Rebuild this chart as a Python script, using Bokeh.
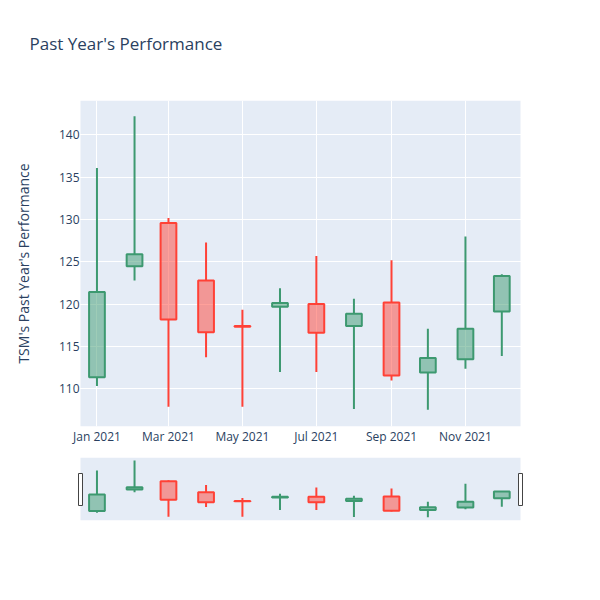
import numpy as np
from bokeh.plotting import figure
from bokeh.layouts import column
from bokeh.models import FixedTicker, Range1d, ColumnDataSource, CustomJSTickFormatter
from bokeh.embed import file_html
from bokeh.resources import INLINE

# ---- data ----
dates = ["2021-01-01", "2021-02-01", "2021-03-01", "2021-04-01", "2021-05-01", "2021-06-01",
         "2021-07-01", "2021-08-01", "2021-09-01", "2021-10-01", "2021-11-01", "2021-12-01"]
opens = [111.4, 124.5, 129.6, 122.8, 117.45, 119.7, 120.05, 117.45, 120.2, 111.95, 113.5, 119.15]
highs = [136.1, 142.2, 130.2, 127.3, 119.35, 121.9, 125.7, 120.65, 125.2, 117.1, 128.0, 123.55]
lows = [110.35, 122.8, 107.9, 113.75, 107.9, 112.0, 112.0, 107.65, 111.0, 107.55, 112.4, 113.9]
closes = [121.45, 125.9, 118.2, 116.7, 117.35, 120.15, 116.65, 118.9, 111.6, 113.65, 117.1, 123.35]

x_tick_dates = ["2021-01-01", "2021-03-01", "2021-05-01", "2021-07-01", "2021-09-01", "2021-11-01"]
x_tick_labels = ["Jan 2021", "Mar 2021", "May 2021", "Jul 2021", "Sep 2021", "Nov 2021"]
y_ticks = [110, 115, 120, 125, 130, 135, 140]

title_text = "Past Year's Performance"
y_label = "TSM's Past Year's Performance"

# ---- derived ----
def to_ms(lst):
    return np.array(lst, dtype="datetime64[ms]").astype("int64").astype(float)

x = to_ms(dates)
o = np.array(opens); h = np.array(highs); l = np.array(lows); c = np.array(closes)
top = np.maximum(o, c); bot = np.minimum(o, c)
inc = c >= o
DAY = 86400000.0
body_w = 13 * DAY

x_start = float(np.array("2020-12-18T10:00", dtype="datetime64[ms]").astype("int64"))
x_end = float(np.array("2021-12-16T10:00", dtype="datetime64[ms]").astype("int64"))
y_lo, y_hi = 105.57, 144.07

INC = "#3D9970"
DEC = "#FF4136"
TXT = "#2a3f5f"
BG = "#E5ECF6"
FONT = "Open Sans"

FRAME_W, FRAME_H = 440, 326
TOP, BOTTOM, LEFT, RIGHT = 100, 31, 80, 72
HPAD = 4                       # extra frame px each side (room for slider handles)
span = x_end - x_start
xpad = HPAD * span / FRAME_W

def src(mask):
    return ColumnDataSource(dict(x=x[mask], o=o[mask], h=h[mask], l=l[mask], c=c[mask],
                                 top=top[mask], bot=bot[mask]))

def draw_candles(fig):
    for mask, col in ((inc, INC), (~inc, DEC)):
        s = src(mask)
        fig.segment(x0="x", y0="top", x1="x", y1="h", source=s, line_color=col, line_width=2)
        fig.segment(x0="x", y0="l", x1="x", y1="bot", source=s, line_color=col, line_width=2)
        fig.vbar(x="x", width=body_w, top="top", bottom="bot", source=s,
                 fill_color=col, fill_alpha=0.5, line_color=col, line_width=2)

# ---- main figure ----
p = figure(x_axis_type="datetime", frame_width=FRAME_W + 2 * HPAD, frame_height=FRAME_H,
           min_border_left=LEFT - HPAD, min_border_right=RIGHT - HPAD,
           min_border_top=TOP, min_border_bottom=BOTTOM,
           x_range=Range1d(x_start - xpad, x_end + xpad), y_range=Range1d(y_lo, y_hi),
           output_backend="svg", toolbar_location=None)
p.title.text = title_text
p.title.text_font = FONT
p.title.text_font_size = "17px"
p.title.text_font_style = "normal"
p.title.text_color = TXT
p.title.align = "left"
p.title.offset = -47
padded = False
for pad_val in (dict(left=0, right=0, top=0, bottom=46), (0, 0, 46, 0)):
    try:
        p.title.padding = pad_val
        p.title.standoff = 0
        padded = True
        break
    except Exception:
        pass
if not padded:
    p.title.standoff = 69

p.background_fill_color = "white"
p.border_fill_color = "white"
p.outline_line_color = None
p.quad(left=[x_start], right=[x_end], bottom=[y_lo], top=[y_hi],
       fill_color=BG, line_color=None, level="image")
p.grid.grid_line_color = "white"
p.grid.grid_line_width = 1
p.ygrid.bounds = (x_start, x_end)

tick_ms = list(to_ms(x_tick_dates))
p.xaxis.ticker = FixedTicker(ticks=tick_ms)
p.xaxis.formatter = CustomJSTickFormatter(args=dict(tvals=tick_ms, tlabels=x_tick_labels), code="""
    let best = -1, bd = Infinity;
    for (let i = 0; i < tvals.length; i++) { const d = Math.abs(tvals[i] - tick); if (d < bd) { bd = d; best = i; } }
    return bd < 86400000 ? tlabels[best] : '';
""")
p.yaxis.ticker = FixedTicker(ticks=y_ticks)
p.yaxis.axis_label = y_label
for ax in (p.xaxis, p.yaxis):
    ax.axis_line_color = None
    ax.major_tick_line_color = None
    ax.minor_tick_line_color = None
    ax.major_tick_out = 0
    ax.major_tick_in = 0
    ax.minor_tick_out = 0
    ax.minor_tick_in = 0
    ax.major_label_text_font = FONT
    ax.major_label_text_font_size = "12px"
    ax.major_label_text_color = TXT
p.xaxis.major_label_standoff = 1
try:
    p.yaxis.major_label_standoff = -3
except Exception:
    p.yaxis.major_label_standoff = 0
p.yaxis.axis_label_text_font = FONT
p.yaxis.axis_label_text_font_size = "14px"
p.yaxis.axis_label_text_font_style = "normal"
p.yaxis.axis_label_text_color = TXT
p.yaxis.axis_label_standoff = 23

draw_candles(p)

# ---- range slider ----
SL_H = 63
s = figure(x_axis_type="datetime", frame_width=FRAME_W + 2 * HPAD, frame_height=SL_H,
           min_border_left=LEFT - HPAD, min_border_right=RIGHT - HPAD,
           min_border_top=0, min_border_bottom=10,
           x_range=p.x_range, y_range=Range1d(y_lo, y_hi),
           x_axis_location=None, y_axis_location=None,
           output_backend="svg", toolbar_location=None)
s.background_fill_color = "white"
s.border_fill_color = "white"
s.outline_line_color = None
s.grid.visible = False
s.quad(left=[x_start], right=[x_end], bottom=[y_lo], top=[y_hi], fill_color=BG, line_color=None)
draw_candles(s)
ymid = (y_lo + y_hi) / 2 - 0.5 * (y_hi - y_lo) / SL_H
s.rect(x=[x_start, x_end], y=[ymid, ymid], width=4, height=32, width_units="screen",
       height_units="screen", fill_color="white", line_color="#444444", line_width=1)

layout = column(p, s)
open("out.html", "w").write(file_html(layout, INLINE))
